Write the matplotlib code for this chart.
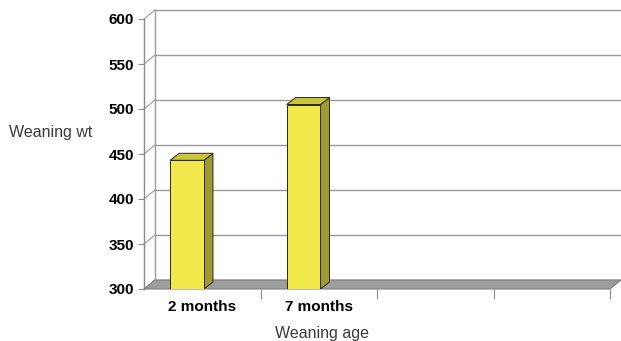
import matplotlib
matplotlib.use("Agg")
import matplotlib.pyplot as plt
from matplotlib.patches import Polygon

plt.rcParams["font.family"] = ["Liberation Sans", "DejaVu Sans"]

categories = ["2 months", "7 months", "", ""]
weaning_wt = [443, 505]
y_ticks = [300, 350, 400, 450, 500, 550, 600]
y_min, y_max = 300, 600

# depth offsets of the fake 3D box, in data units
WALL_DX, WALL_DY = 0.094, 10.0
BAR_DX, BAR_DY = 0.077, 7.8
BAR_W = 0.29
BAR_SHIFT = -0.13

FRONT = "#f2ea4c"
SIDE = "#9c9a30"
TOP = "#c9c43c"
EDGE = "#2a2a18"
GRID = "#9a9a9a"

fig = plt.figure(figsize=(6.21, 3.41), dpi=100)
ax = fig.add_axes([144 / 621, 52 / 341, 466 / 621, 270 / 341])
ax.set_xlim(0, len(categories))
ax.set_ylim(y_min, y_max)
for s in ax.spines.values():
    s.set_visible(False)

n = len(categories)

# back wall gridlines + left wall diagonals
for v in y_ticks:
    ax.plot([WALL_DX, n + WALL_DX], [v + WALL_DY, v + WALL_DY], color=GRID, lw=1.0, clip_on=False, zorder=1)
    ax.plot([0, WALL_DX], [v, v + WALL_DY], color=GRID, lw=0.8, clip_on=False, zorder=1)
ax.plot([WALL_DX, WALL_DX], [y_min + WALL_DY, y_max + WALL_DY], color=GRID, lw=1.0, clip_on=False, zorder=1)
ax.plot([0, 0], [y_min, y_max], color="#8a8a8a", lw=1.0, clip_on=False, zorder=2)

# floor
floor = Polygon([(0, y_min), (n, y_min), (n + WALL_DX, y_min + WALL_DY), (WALL_DX, y_min + WALL_DY)],
                closed=True, facecolor="#9d9d9d", edgecolor="#808080", lw=0.8, clip_on=False, zorder=2)
ax.add_patch(floor)

# bars
centers = [i + 0.5 + BAR_SHIFT for i in range(len(weaning_wt))]
heights = [v - y_min for v in weaning_wt]
ax.bar(centers, heights, bottom=y_min, width=BAR_W, color=FRONT, edgecolor=EDGE, lw=0.7, zorder=4)
for c, v in zip(centers, weaning_wt):
    x0, x1 = c - BAR_W / 2, c + BAR_W / 2
    side = Polygon([(x1, y_min), (x1, v), (x1 + BAR_DX, v + BAR_DY), (x1 + BAR_DX, y_min + BAR_DY)],
                   closed=True, facecolor=SIDE, edgecolor=EDGE, lw=0.7, zorder=3)
    top = Polygon([(x0, v), (x1, v), (x1 + BAR_DX, v + BAR_DY), (x0 + BAR_DX, v + BAR_DY)],
                  closed=True, facecolor=TOP, edgecolor=EDGE, lw=0.7, zorder=3, clip_on=False)
    ax.add_patch(side)
    ax.add_patch(top)

# y axis ticks
ax.set_yticks(y_ticks)
ax.set_yticklabels([str(v) for v in y_ticks], fontweight="bold", fontsize=11)
ax.tick_params(axis="y", length=4, width=0.8, color="#8a8a8a", pad=3)

# x axis: tick marks at category boundaries, labels at centres
ax.set_xticks(range(1, n + 1))
ax.set_xticklabels([])
ax.set_xticks([i + 0.5 for i in range(n)], minor=True)
ax.set_xticklabels(categories, minor=True, fontweight="bold", fontsize=11)
ax.tick_params(axis="x", which="major", length=7, width=0.8, color="#8a8a8a", direction="out")
ax.tick_params(axis="x", which="minor", length=0, pad=8)

ax.set_ylabel("Weaning wt", rotation=0, fontsize=11.5, color="#3a3a3a", ha="center", va="center")
ax.yaxis.set_label_coords(-0.2, 0.578)
ax.set_xlabel("Weaning age", fontsize=11.5, color="#3a3a3a", ha="center", va="center")
ax.xaxis.set_label_coords(0.382, -0.163)

fig.savefig("out.png", dpi=100)
